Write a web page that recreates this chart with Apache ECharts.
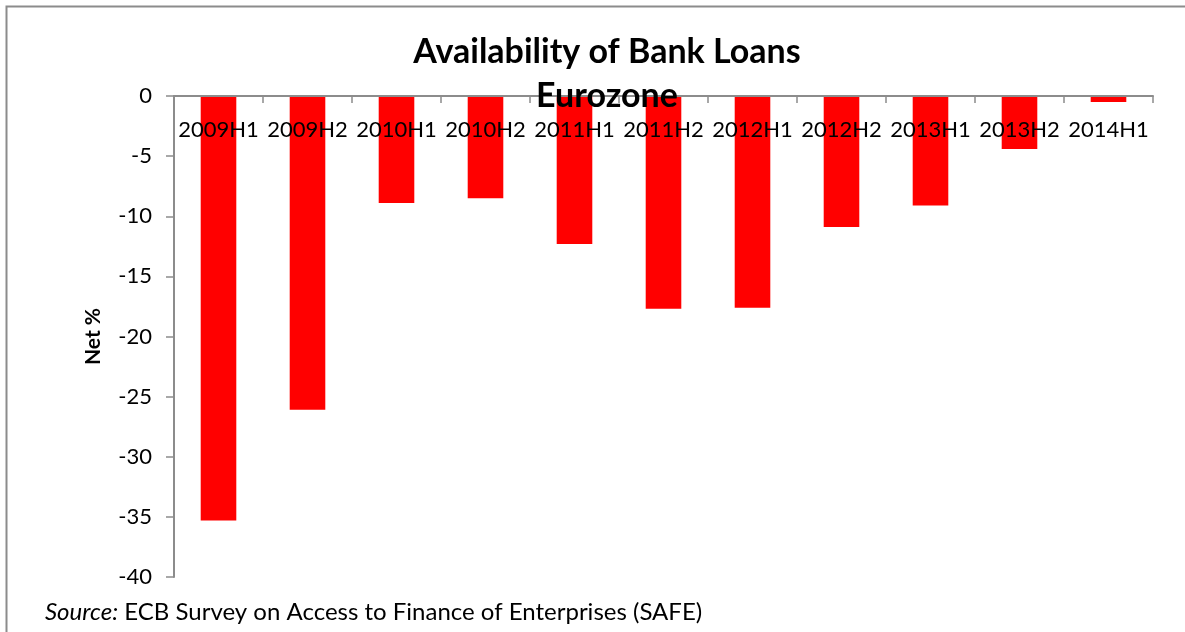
<!DOCTYPE html>
<html>
<head>
<meta charset="utf-8">
<script src="https://cdn.jsdelivr.net/npm/echarts@6/dist/echarts.min.js"></script>
<style>
  html, body { margin: 0; padding: 0; background: #fff; }
  #chart { width: 1185px; height: 632px; }
</style>
</head>
<body>
<div id="chart"></div>
<script>
// Half-year survey periods
const periods = ['2009H1', '2009H2', '2010H1', '2010H2', '2011H1', '2011H2',
                 '2012H1', '2012H2', '2013H1', '2013H2', '2014H1'];
// Net percentage of firms reporting improved availability of bank loans
const netPercent = [-35.3, -26.1, -8.9, -8.5, -12.3, -17.7, -17.6, -10.9, -9.1, -4.4, -0.5];

const yMin = -40;
const yMax = 0;
const yStep = 5;

const font = 'Lato, "Open Sans", "Liberation Sans", sans-serif';

const chart = echarts.init(document.getElementById('chart'));
chart.setOption({
  animation: false,
  backgroundColor: '#ffffff',
  title: {
    text: 'Availability of Bank Loans\nEurozone',
    left: 602,
    top: 25,
    textAlign: 'center',
    z: 20,
    textStyle: {
      fontFamily: font,
      fontSize: 34,
      fontWeight: 'bold',
      color: '#000',
      lineHeight: 44
    }
  },
  graphic: [
    {
      type: 'rect',
      silent: true,
      z: -1,
      shape: { x: 6.5, y: 6.5, width: 1300, height: 800 },
      style: { fill: 'none', stroke: '#8c8c8c', lineWidth: 2 }
    },
    {
      type: 'text',
      left: 45,
      top: 600,
      style: {
        text: '{i|Source:} ECB Survey on Access to Finance of Enterprises (SAFE)',
        fontFamily: font,
        fontSize: 24,
        fill: '#000',
        rich: { i: { fontStyle: 'italic', fontFamily: font, fontSize: 24 } }
      }
    }
  ],
  grid: { left: 174, right: 32, top: 96, bottom: 55, containLabel: false },
  xAxis: {
    type: 'category',
    position: 'top',
    data: periods,
    z: 10,
    axisLine: { show: true, lineStyle: { color: '#8c8c8c', width: 2 } },
    axisTick: { show: true, inside: true, length: 7, alignWithLabel: false, lineStyle: { color: '#8c8c8c', width: 1.5 } },
    axisLabel: {
      inside: true,
      margin: 23,
      interval: 0,
      fontFamily: font,
      fontSize: 22,
      color: '#000'
    },
    splitLine: { show: false }
  },
  yAxis: {
    type: 'value',
    min: yMin,
    max: yMax,
    interval: yStep,
    name: 'Net %',
    nameLocation: 'middle',
    nameGap: 70,
    nameRotate: 90,
    nameTextStyle: { fontFamily: font, fontSize: 21, fontWeight: 'bold', color: '#000' },
    axisLine: { show: true, lineStyle: { color: '#8c8c8c', width: 2 } },
    axisTick: { show: true, length: 8, lineStyle: { color: '#8c8c8c', width: 1.5 } },
    axisLabel: { margin: 22, fontFamily: font, fontSize: 22, color: '#000' },
    splitLine: { show: false }
  },
  series: [{
    type: 'bar',
    data: netPercent,
    barCategoryGap: '60%',
    itemStyle: { color: '#ff0000' },
    z: 2
  }]
});
</script>
</body>
</html>
